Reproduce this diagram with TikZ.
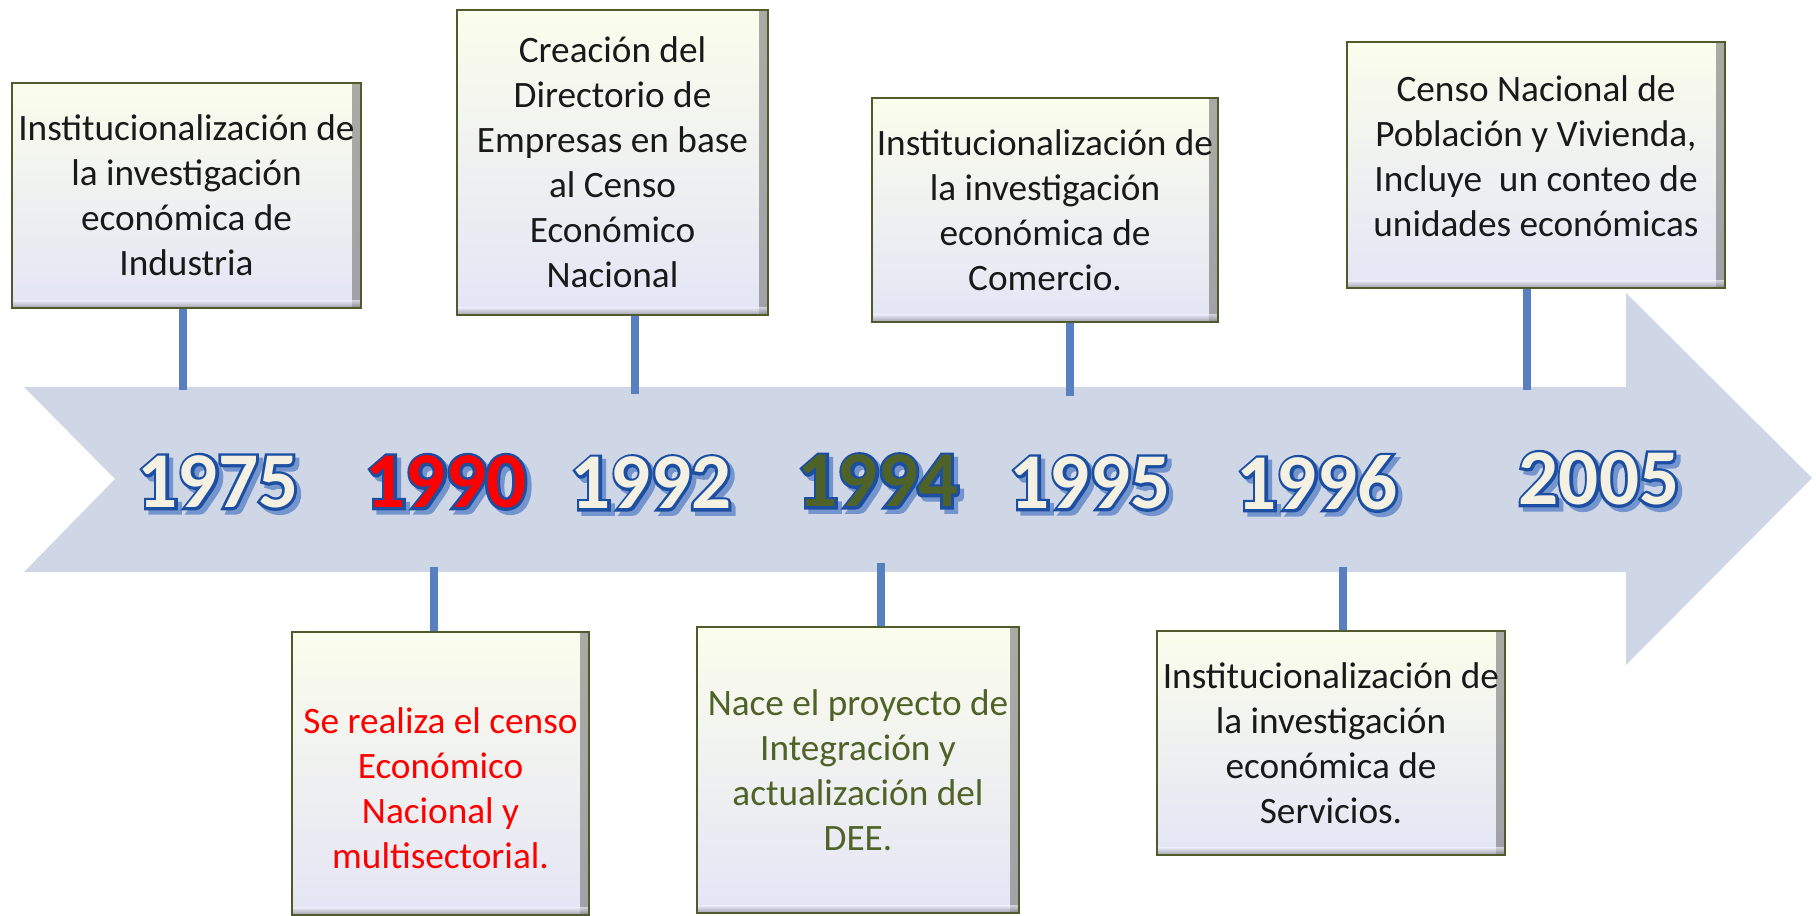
\documentclass[tikz,border=0pt]{standalone}
\usepackage{fontspec}
\setmainfont{Carlito}
\usetikzlibrary{positioning}

\definecolor{flecha}{RGB}{207,214,230}
\definecolor{borde}{RGB}{79,91,45}
\definecolor{tope}{RGB}{251,253,236}
\definecolor{fondo}{RGB}{228,229,245}
\definecolor{palo}{RGB}{88,128,192}
\definecolor{crema}{RGB}{244,240,226}
\definecolor{olivo}{RGB}{79,98,40}
\definecolor{texto}{RGB}{25,25,25}

% year label: blue shadow, blue outline, then the filled digits on top
\newcommand{\anio}[2]{%
  \rlap{\kern1.2pt\raisebox{-1.2pt}{%
    \special{pdf:literal direct 2 Tr 1.6 w 0.45 0.58 0.80 RG 0.45 0.58 0.80 rg}#2%
    \special{pdf:literal direct 0 Tr 0.4 w 0 0 0 RG}}}%
  \rlap{\special{pdf:literal direct 1 Tr 1.6 w 0.11 0.31 0.63 RG}#2%
    \special{pdf:literal direct 0 Tr 0.4 w 0 0 0 RG}}%
  {\color{#1}#2}}

\tikzset{
  evento/.style={draw=borde, line width=0.8pt, top color=tope, bottom color=fondo,
    align=center, inner sep=0pt, text=texto,
    font=\fontsize{10.6}{12.8}\selectfont,
    path picture={
      \shade[left color=fondo, right color=black!55, opacity=.6]
        ([xshift=-0.09cm]path picture bounding box.north east) rectangle (path picture bounding box.south east);
      \shade[top color=fondo, bottom color=black!55, opacity=.6]
        ([yshift=0.07cm]path picture bounding box.south west) rectangle (path picture bounding box.south east);
    }},
  palito/.style={draw=palo, line width=0.08cm},
  anio/.style={font=\fontsize{22.5}{24}\bfseries\selectfont}
}

\begin{document}
\begin{tikzpicture}
  \useasboundingbox (0,0) rectangle (18.16,-9.16);
  % timeline arrow
  \fill[flecha] (0.24,-3.87) -- (16.26,-3.87) -- (16.26,-2.93) -- (18.12,-4.78)
    -- (16.26,-6.65) -- (16.26,-5.72) -- (0.24,-5.72) -- (1.15,-4.79) -- cycle;

  % years
  \node[anio] (a1975) at (2.18,-4.84) {\anio{crema}{1975}};
  \node[anio] (a1990) at (4.46,-4.84) {\anio{red}{1990}};
  \node[anio] (a1992) at (6.51,-4.85) {\anio{crema}{1992}};
  \node[anio] (a1994) at (8.78,-4.83) {\anio{olivo}{1994}};
  \node[anio] (a1995) at (10.90,-4.85) {\anio{crema}{1995}};
  \node[anio] (a1996) at (13.17,-4.85) {\anio{crema}{1996}};
  \node[anio] (a2005) at (15.99,-4.81) {\anio{crema}{2005}};

  % boxes above
  \node[evento, minimum width=3.49cm, minimum height=2.25cm] (industria) at (1.865,-1.955)
    {Institucionalización de\\la investigación\\económica de\\Industria};
  \node[evento, minimum width=3.11cm, minimum height=3.05cm] (directorio) at (6.125,-1.625)
    {Creación del\\Directorio de\\Empresas en base\\al Censo\\Económico\\Nacional};
  \node[evento, minimum width=3.46cm, minimum height=2.24cm] (comercio) at (10.45,-2.10)
    {Institucionalización de\\la investigación\\económica de\\Comercio.};
  \node[evento, minimum width=3.78cm, minimum height=2.46cm] (poblacion) at (15.36,-1.65)
    {Censo Nacional de\\Población y Vivienda,\\Incluye\ \ un conteo de\\unidades económicas\\[-7.7pt]\mbox{}};

  % boxes below
  \node[evento, minimum width=2.97cm, minimum height=2.83cm, text=red] (censo) at (4.405,-7.735)
    {\\[2.8pt]Se realiza el censo\\Económico\\Nacional y\\multisectorial.};
  \node[evento, minimum width=3.22cm, minimum height=2.86cm, text=olivo] (proyecto) at (8.58,-7.70)
    {Nace el proyecto de\\Integración y\\actualización del\\DEE.};
  \node[evento, minimum width=3.48cm, minimum height=2.24cm] (servicios) at (13.31,-7.43)
    {Institucionalización de\\la investigación\\económica de\\Servicios.};

  % connector ends on the arrow
  \coordinate (pIndustria) at (1.83,-3.90);
  \coordinate (pDirectorio) at (6.35,-3.94);
  \coordinate (pComercio) at (10.70,-3.96);
  \coordinate (pPoblacion) at (15.27,-3.90);
  \coordinate (pCenso) at (4.34,-5.67);
  \coordinate (pProyecto) at (8.81,-5.63);
  \coordinate (pServicios) at (13.43,-5.67);

  \draw[palito] (pIndustria |- industria.south) -- (pIndustria);
  \draw[palito] (pDirectorio |- directorio.south) -- (pDirectorio);
  \draw[palito] (pComercio |- comercio.south) -- (pComercio);
  \draw[palito] (pPoblacion |- poblacion.south) -- (pPoblacion);
  \draw[palito] (pCenso) -- (pCenso |- censo.north);
  \draw[palito] (pProyecto) -- (pProyecto |- proyecto.north);
  \draw[palito] (pServicios) -- (pServicios |- servicios.north);
\end{tikzpicture}
\end{document}
